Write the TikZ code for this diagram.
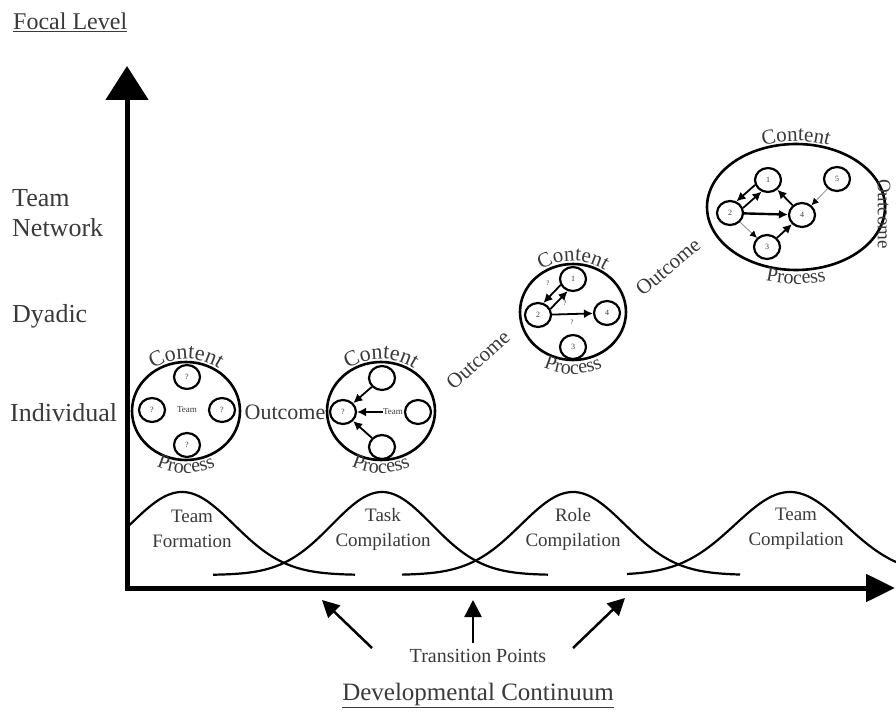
\documentclass[tikz,border=0pt]{standalone}
\usepackage{fontspec}
\setmainfont{Liberation Serif}
\usetikzlibrary{arrows.meta,shapes.geometric,decorations.text,calc}
\definecolor{txt}{HTML}{3A3A3A}
\definecolor{weakline}{HTML}{8C8C8C}
\newcommand{\fsz}[1]{\fontsize{#1}{#1}\selectfont}
% curved label along an elliptical arc around a node:
% #1 node, #2 x radius, #3 y radius, #4 start angle, #5 end angle, #6 size, #7 text
\newcommand{\arclabel}[7]{%
  \path[decorate, decoration={text along path, text align=center,
      text={|\fsz{#6}\color{txt}|#7}}]
    ([shift={({#2*cos(#4)},{#3*sin(#4)})}]#1.center)
    arc[start angle=#4, end angle=#5, x radius=#2, y radius=#3];}
\begin{document}
\begin{tikzpicture}[x=1pt,y=1pt,
  axis/.style={line width=5pt},
  bell/.style={line width=2.2pt},
  stagecircle/.style={draw, line width=2.6pt, ellipse, inner sep=0pt},
  member/.style={draw, line width=2.2pt, ellipse, inner sep=0pt,
    minimum width=26pt, minimum height=24pt, font=\fsz{8}, text=txt},
  lbl/.style={text=txt, inner sep=0pt},
  tiny/.style={text=txt, inner sep=0pt, font=\fsz{7}},
  tie/.style={line width=1.8pt, -{Latex[length=9pt,width=9pt]}},
  weak/.style={line width=0.8pt, draw=weakline, -{Latex[length=7pt,width=7pt,color=black]}},
  pointer/.style={line width=2.5pt, -{Triangle[length=17pt,width=17pt]}}
]
% canvas
\fill[white] (0,0) rectangle (896,713);
\useasboundingbox (0,0) rectangle (896,713);

% axes
\coordinate (origin) at (127,125);
\coordinate (ytop) at (127,647);
\coordinate (xend) at (895,125);
\draw[axis, -{Triangle[length=34pt,width=42pt]}] ([yshift=-2.5pt]origin) -- (ytop);
\draw[axis, -{Triangle[length=29pt,width=27pt]}] ([xshift=-2.5pt]origin) -- (xend);

% axis titles and levels
\node[lbl, font=\fsz{24}, anchor=base west] (focal) at (13,683) {\underline{Focal Level}};
\node[lbl, font=\fsz{26}, anchor=base west] (lvlteam) at (12,506) {Team};
\node[lbl, font=\fsz{26}, anchor=base west] (lvlnet) at (12,476) {Network};
\node[lbl, font=\fsz{26}, anchor=base west] (lvldyad) at (12,390) {Dyadic};
\node[lbl, font=\fsz{26}, anchor=base west] (lvlind) at (10,292) {Individual};
\node[lbl, font=\fsz{25}, anchor=base] (devcont) at (478,13) {\underline{Developmental Continuum}};
\node[lbl, font=\fsz{20}, anchor=base] (trans) at (478,51) {Transition Points};

% developmental stages
\draw[bell] plot[domain=129:355, samples=90, smooth] (\x, {138+83*exp(-0.5*((\x-182)/52)^2)});
\draw[bell] plot[domain=213:548, samples=110, smooth] (\x, {138+83*exp(-0.5*((\x-382)/50)^2)});
\draw[bell] plot[domain=402:740, samples=110, smooth] (\x, {138+83*exp(-0.5*((\x-573)/52)^2)});
\draw[bell] plot[domain=627:896, samples=90, smooth] (\x, {138+83*exp(-0.5*((\x-790)/55)^2)});
\node[lbl, font=\fontsize{19}{25}\selectfont, align=center] (stg1) at (192,184) {Team\\Formation};
\node[lbl, font=\fontsize{19}{25}\selectfont, align=center] (stg2) at (383,184) {Task\\Compilation};
\node[lbl, font=\fontsize{19}{25}\selectfont, align=center] (stg3) at (573,184) {Role\\Compilation};
\node[lbl, font=\fontsize{19}{25}\selectfont, align=center] (stg4) at (796,184) {Team\\Compilation};

% transition arrows
\coordinate (tq1) at (372,65);  \coordinate (tp1) at (322,113);
\coordinate (tq2) at (473,70);  \coordinate (tp2) at (473,113);
\coordinate (tq3) at (573,65);  \coordinate (tp3) at (625,115);
\draw[pointer] (tq1) -- (tp1);
\draw[pointer] (tq2) -- (tp2);
\draw[pointer] (tq3) -- (tp3);

% stage 1: individual members
\node[stagecircle, minimum width=108pt, minimum height=98pt] (s1) at (186,302) {};
\node[member] (s1a) at (187,336) {?};
\node[member] (s1b) at (152,303) {?};
\node[member] (s1c) at (222,303) {?};
\node[member] (s1d) at (187,268) {?};
\node[lbl, font=\fsz{9}] (s1t) at (187,303) {Team};
\arclabel{s1}{57}{52}{140}{40}{22}{Content}
\arclabel{s1}{67}{62}{230}{310}{20}{Process}

\node[lbl, font=\fsz{22}] (o1) at (285,301) {Outcome};

% stage 2: task links
\node[stagecircle, minimum width=108pt, minimum height=98pt] (s2) at (381,302) {};
\node[member] (s2a) at (382,335) {};
\node[member] (s2b) at (343,301) {?};
\node[member] (s2c) at (418,301) {};
\node[member] (s2d) at (382,266) {};
\node[lbl, font=\fsz{9}] (s2t) at (393,301) {Team};
\draw[tie] (s2a) -- (s2b);
\draw[tie] (s2t) -- (s2b);
\draw[tie] (s2d) -- (s2b);
\arclabel{s2}{57}{52}{140}{40}{22}{Content}
\arclabel{s2}{67}{62}{230}{310}{20}{Process}

\node[lbl, font=\fsz{21}, rotate=42] (o2) at (478,353) {Outcome};

% stage 3: dyadic links
\node[stagecircle, minimum width=106pt, minimum height=96pt] (s3) at (573,401) {};
\node[member] (s3a) at (573,434) {1};
\node[member] (s3b) at (538,398) {2};
\node[member] (s3c) at (607,400) {4};
\node[member] (s3d) at (573,366) {3};
\draw[tie] (s3a.206) -- (s3b.66);
\draw[tie] (s3b.26) -- (s3a.246);
\draw[tie] (s3b) -- (s3c);
\node[tiny] (q31) at (548,430) {?};
\node[tiny] (q32) at (565,410) {?};
\node[tiny] (q33) at (572,391) {?};
\arclabel{s3}{56}{51}{140}{40}{21}{Content}
\arclabel{s3}{67}{62}{230}{310}{20}{Process}

\node[lbl, font=\fsz{21}, rotate=40] (o3) at (668,446) {Outcome};

% stage 4: team network
\node[stagecircle, minimum width=178pt, minimum height=126pt] (s4) at (796,506) {};
\node[member] (s4a) at (768,533) {1};
\node[member] (s4e) at (837,534) {5};
\node[member] (s4b) at (730,500) {2};
\node[member] (s4c) at (802,498) {4};
\node[member] (s4d) at (767,466) {3};
\draw[tie] (s4a.201) -- (s4b.61);
\draw[tie] (s4b.21) -- (s4a.241);
\draw[tie] (s4c) -- (s4a);
\draw[tie, line width=2.4pt] (s4b) -- (s4c);
\draw[tie] (s4d) -- (s4c);
\draw[weak] (s4b) -- (s4d);
\draw[weak] (s4e) -- (s4c);
\arclabel{s4}{92}{66}{125}{55}{21}{Content}
\arclabel{s4}{103}{77}{240}{300}{20}{Process}
\node[lbl, font=\fsz{19}, rotate=-90] (o4) at (884,499) {Outcome};
\end{tikzpicture}
\end{document}
